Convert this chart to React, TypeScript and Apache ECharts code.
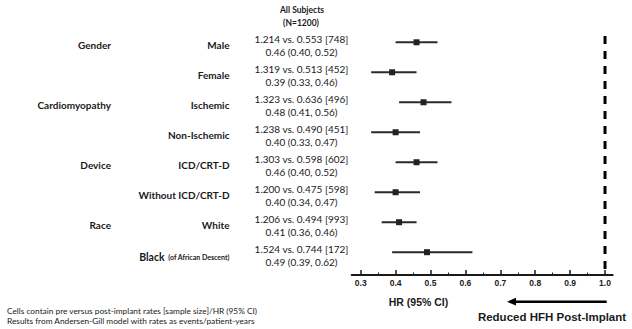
import React, { useEffect, useRef } from "react";
import * as echarts from "echarts";

// ---- data ----
const groups = ["Gender", "", "Cardiomyopathy", "", "Device", "", "Race", ""];
const subgroups = ["Male", "Female", "Ischemic", "Non-Ischemic", "ICD/CRT-D", "Without ICD/CRT-D", "White", "Black"];
const subgroupNotes = ["", "", "", "", "", "", "", "(of African Descent)"];
const preRates = ["1.214", "1.319", "1.323", "1.238", "1.303", "1.200", "1.206", "1.524"];
const postRates = ["0.553", "0.513", "0.636", "0.490", "0.598", "0.475", "0.494", "0.744"];
const sampleSizes = [748, 452, 496, 451, 602, 598, 993, 172];
const hr = [0.46, 0.39, 0.48, 0.40, 0.46, 0.40, 0.41, 0.49];
const ciLow = [0.40, 0.33, 0.41, 0.33, 0.40, 0.34, 0.36, 0.39];
const ciHigh = [0.52, 0.46, 0.56, 0.47, 0.52, 0.47, 0.46, 0.62];
const tickValues = [0.3, 0.4, 0.5, 0.6, 0.7, 0.8, 0.9, 1.0];
const minorTickValues = [0.35, 0.45, 0.55, 0.65, 0.75, 0.85, 0.95];
const referenceHR = 1.0;
const headerLines = ["All Subjects", "(N=1200)"];
const footnotes = [
  "Cells contain pre versus post-implant rates [sample size]/HR (95% CI)",
  "Results from Andersen-Gill model with rates as events/patient-years",
];
const xAxisTitle = "HR (95% CI)";
const directionLabel = "Reduced HFH Post-Implant";

// ---- layout / style ----
const X_MIN = 0.2742;
const X_MAX = 1.022;
const Y_MIN = -0.5;
const Y_MAX = 7.76;
const DASH_TOP = -0.21;
const INK = "#1a1a1a";
const CAL = "Lato, 'Liberation Sans', sans-serif";
const ARIAL = "'Liberation Sans', Arial, sans-serif";

export default function App() {
  const ref = useRef<HTMLDivElement>(null);
  useEffect(() => {
    if (!ref.current) return;
    const chart = echarts.init(ref.current, null, { renderer: "svg" });
    const rows = subgroups.map((_, i) => i);

    const centered = { align: "center", verticalAlign: "middle", textAlign: "center", textVerticalAlign: "middle" };

    const option: any = {
      animation: false,
      grid: { left: 351.7, right: 19.3, top: 27.3, bottom: 54 },
      xAxis: [
        {
          type: "value",
          min: X_MIN,
          max: X_MAX,
          position: "bottom",
          splitLine: { show: false },
          axisLine: { show: true, onZero: false, lineStyle: { color: INK, width: 2 } },
          axisTick: {
            show: true,
            inside: true,
            length: 5,
            customValues: tickValues,
            lineStyle: { color: INK, width: 1.5 },
          },
          axisLabel: {
            show: true,
            customValues: tickValues,
            margin: 3,
            formatter: (v: number) => v.toFixed(1),
            color: "#222",
            fontFamily: ARIAL,
            fontWeight: "bold",
            fontSize: 8.5,
          },
        },
        {
          type: "value",
          min: X_MIN,
          max: X_MAX,
          position: "bottom",
          splitLine: { show: false },
          axisLine: { show: false, onZero: false },
          axisLabel: { show: false },
          axisTick: {
            show: true,
            inside: true,
            length: 2.5,
            customValues: minorTickValues,
            lineStyle: { color: INK, width: 1 },
          },
        },
      ],
      yAxis: { type: "value", min: Y_MIN, max: Y_MAX, inverse: true, show: false },
      series: [
        {
          type: "line",
          xAxisIndex: 0,
          data: [
            [referenceHR, DASH_TOP],
            [referenceHR, Y_MAX],
          ],
          symbol: "none",
          silent: true,
          lineStyle: { color: "#000", width: 3, type: [8, 7] },
          z: 1,
        },
        {
          type: "custom",
          xAxisIndex: 0,
          data: rows.map((i) => [ciLow[i], ciHigh[i], hr[i], i]),
          encode: { x: [0, 1, 2], y: 3 },
          renderItem: (params: any, api: any) => {
            const row = api.value(3);
            const pl = api.coord([api.value(0), row]);
            const ph = api.coord([api.value(1), row]);
            const pm = api.coord([api.value(2), row]);
            const s = 6;
            return {
              type: "group",
              children: [
                {
                  type: "line",
                  shape: { x1: pl[0], y1: pl[1], x2: ph[0], y2: ph[1] },
                  style: { stroke: "#2a2a2a", lineWidth: 2 },
                },
                {
                  type: "rect",
                  shape: { x: pm[0] - s / 2, y: pm[1] - s / 2, width: s, height: s },
                  style: { fill: "#222" },
                },
              ],
            };
          },
          z: 3,
        },
        {
          type: "custom",
          xAxisIndex: 0,
          clip: false,
          data: rows.map((i) => [X_MIN, i]),
          encode: { x: 0, y: 1 },
          renderItem: (params: any, api: any) => {
            const i = params.dataIndex;
            const y = api.coord([X_MIN, api.value(1)])[1];
            const children: any[] = [];
            if (groups[i]) {
              children.push({
                type: "text",
                x: 111,
                y: y + 3,
                style: {
                  text: groups[i],
                  font: `bold 10px ${CAL}`,
                  fill: INK,
                  align: "right",
                  verticalAlign: "middle",
                },
              });
            }
            const note = subgroupNotes[i];
            children.push({
              type: "text",
              x: 229.5,
              y: y + (note ? 4.5 : 3),
              style: note
                ? {
                    text: `{a|${subgroups[i]}} {b|${note}}`,
                    align: "right",
                    verticalAlign: "middle",
                    rich: {
                      a: { font: `bold 10.5px ${CAL}`, fill: INK },
                      b: { font: `bold 7px ${CAL}`, fill: INK },
                    },
                  }
                : {
                    text: subgroups[i],
                    font: `bold 10px ${CAL}`,
                    fill: INK,
                    align: "right",
                    verticalAlign: "middle",
                  },
            });
            children.push({
              type: "text",
              x: 301.5,
              y: y - 3,
              style: {
                text: `${preRates[i]} vs. ${postRates[i]} [${sampleSizes[i]}]`,
                font: `10px ${CAL}`,
                fill: INK,
                align: "center",
                verticalAlign: "middle",
              },
            });
            children.push({
              type: "text",
              x: 301.5,
              y: y + 9.5,
              style: {
                text: `${hr[i].toFixed(2)} (${ciLow[i].toFixed(2)}, ${ciHigh[i].toFixed(2)})`,
                font: `10px ${CAL}`,
                fill: INK,
                align: "center",
                verticalAlign: "middle",
              },
            });
            return { type: "group", children };
          },
          z: 2,
        },
      ],
      graphic: [
        {
          type: "text",
          x: 302,
          y: 10,
          style: { text: headerLines[0], font: `bold 8.5px ${CAL}`, fill: INK, ...centered },
        },
        {
          type: "text",
          x: 301,
          y: 22.5,
          style: { text: headerLines[1], font: `bold 8.5px ${CAL}`, fill: INK, ...centered },
        },
        ...footnotes.map((t, k) => ({
          type: "text",
          x: 7,
          y: 311 + k * 9.5,
          style: {
            text: t,
            font: `8.3px ${CAL}`,
            fill: INK,
            align: "left",
            verticalAlign: "middle",
            textAlign: "left",
            textVerticalAlign: "middle",
          },
        })),
        {
          type: "text",
          x: 418.5,
          y: 301.5,
          style: { text: xAxisTitle, font: `bold 10.5px ${ARIAL}`, fill: INK, ...centered },
        },
        {
          type: "text",
          x: 552,
          y: 317,
          style: { text: directionLabel, font: `bold 11.5px ${ARIAL}`, fill: INK, ...centered },
        },
        {
          type: "line",
          shape: { x1: 606.7, y1: 301.7, x2: 514, y2: 301.7 },
          style: { stroke: "#000", lineWidth: 2.5 },
        },
        {
          type: "polygon",
          shape: {
            points: [
              [507, 301.7],
              [516, 297.8],
              [516, 305.6],
            ],
          },
          style: { fill: "#000" },
        },
      ],
    };
    chart.setOption(option);
    return () => chart.dispose();
  }, []);

  return (
    <div
      ref={ref}
      style={{ position: "absolute", left: 0, top: 0, width: 632, height: 329, background: "#fff" }}
    />
  );
}
